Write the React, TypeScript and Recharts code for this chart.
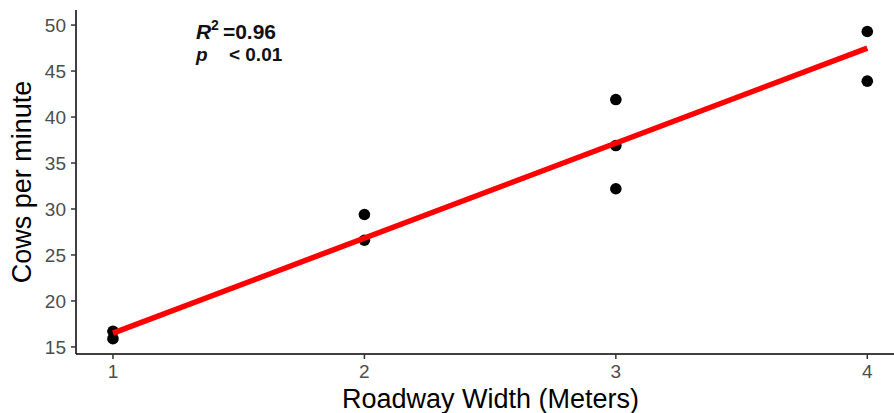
import React from "react";
import {
  ScatterChart,
  Scatter,
  XAxis,
  YAxis,
  ReferenceDot,
} from "recharts";

const roadwayWidth = [1, 1, 2, 2, 3, 3, 3, 4, 4];
const cowsPerMinute = [16.7, 15.9, 29.4, 26.6, 41.9, 36.9, 32.2, 49.3, 43.9];
const fitWidth = [1, 4];
const fitCows = [16.5, 47.5];
const xTicks = [1, 2, 3, 4];
const yTicks = [15, 20, 25, 30, 35, 40, 45, 50];
const rSquaredText = "0.96";
const pValueText = "< 0.01";

const points = roadwayWidth.map((w, i) => ({ x: w, y: cowsPerMinute[i] }));
const fit = fitWidth.map((w, i) => ({ x: w, y: fitCows[i] }));

const FONT = "'Liberation Sans', Arial, sans-serif";

const Annotation = (props: any) => {
  const vb = props.viewBox || {};
  const x = vb.x ?? 0;
  const y = vb.y ?? 0;
  return (
    <g fontFamily={FONT} fontWeight="bold" fill="#111">
      <text x={x} y={y - 1} fontSize={21}>
        <tspan fontStyle="italic">R</tspan>
        <tspan fontSize={14} dy={-9}>2</tspan>
        <tspan dy={9} dx={4}>{"=" + rSquaredText}</tspan>
      </text>
      <text x={x} y={y + 21} fontSize={19}>
        <tspan fontStyle="italic">p</tspan>
        <tspan x={x + 33}>{pValueText}</tspan>
      </text>
    </g>
  );
};

const YLabel = (props: any) => {
  const vb = props.viewBox || {};
  const cx = 22;
  const cy = (vb.y ?? 0) + (vb.height ?? 0) / 2;
  return (
    <text
      x={cx}
      y={cy}
      transform={`rotate(-90, ${cx}, ${cy})`}
      textAnchor="middle"
      dominantBaseline="central"
      fontFamily={FONT}
      fontSize={27}
      fill="#000"
    >
      Cows per minute
    </text>
  );
};

const XLabel = (props: any) => {
  const vb = props.viewBox || {};
  const cx = (vb.x ?? 0) + (vb.width ?? 0) / 2;
  return (
    <text
      x={cx}
      y={408}
      textAnchor="middle"
      fontFamily={FONT}
      fontSize={27}
      fill="#000"
    >
      Roadway Width (Meters)
    </text>
  );
};

export default function App() {
  return (
    <div
      style={{
        position: "absolute",
        left: 0,
        top: 0,
        width: 894,
        height: 413,
        overflow: "hidden",
        background: "#fff",
      }}
    >
      <ScatterChart
        width={910}
        height={413}
        margin={{ top: 10, right: 5, bottom: 0, left: 0 }}
      >
        <XAxis
          type="number"
          dataKey="x"
          domain={[0.853, 4.15]}
          ticks={xTicks}
          allowDataOverflow
          height={59}
          tickSize={5}
          tickMargin={6}
          axisLine={{ stroke: "#000", strokeWidth: 1.5 }}
          tickLine={{ stroke: "#333", strokeWidth: 1.5 }}
          tick={{ fill: "#4d4d4d", fontSize: 19, fontFamily: FONT }}
          label={{ content: XLabel }}
        />
        <YAxis
          type="number"
          dataKey="y"
          domain={[14.23, 51.64]}
          ticks={yTicks}
          allowDataOverflow
          width={76}
          tickSize={5}
          tickMargin={5}
          axisLine={{ stroke: "#000", strokeWidth: 1.5 }}
          tickLine={{ stroke: "#333", strokeWidth: 1.5 }}
          tick={{ fill: "#4d4d4d", fontSize: 19, fontFamily: FONT }}
          label={{ content: YLabel }}
        />
        <Scatter
          data={points}
          fill="#000"
          isAnimationActive={false}
          shape={(p: any) => <circle cx={p.cx} cy={p.cy} r={5.8} fill="#000" />}
        />
        <Scatter
          data={fit}
          line={{ stroke: "#ff0000", strokeWidth: 5.5 }}
          lineType="joint"
          isAnimationActive={false}
          shape={() => <g />}
        />
        <ReferenceDot
          x={1.33}
          y={48.4}
          r={0}
          fill="none"
          stroke="none"
          label={{ content: Annotation }}
        />
      </ScatterChart>
    </div>
  );
}
